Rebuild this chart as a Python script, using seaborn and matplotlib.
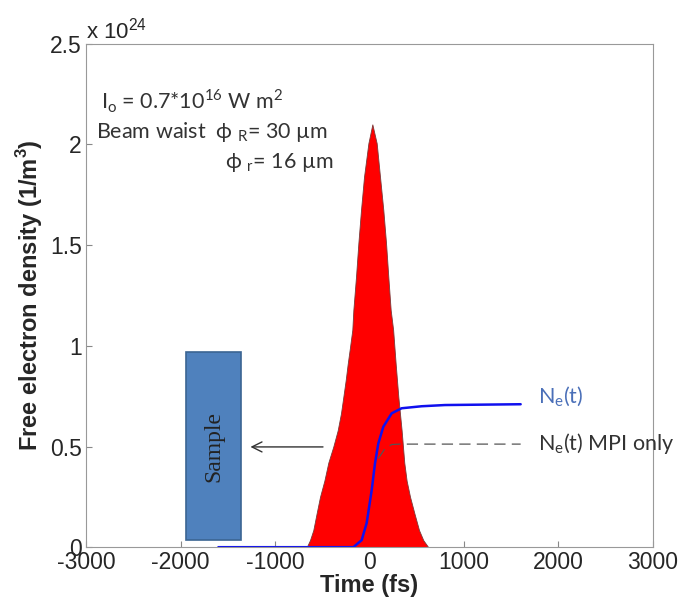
import numpy as np
import pandas as pd
import matplotlib
matplotlib.use("Agg")
import matplotlib.pyplot as plt
import seaborn as sns
from matplotlib.patches import Rectangle

# values in units of 1e24 1/m^3, time in fs
# red pulse outline (left flank, peak, right flank)
pulse_t = [-1600, -680, -665, -630, -595, -559, -524, -478, -436, -383, -337, -302, -277,
           -252, -231, -206, -182, -171, -143, -118, -90, -58, -12, 30,
           76, 111, 146, 175, 199, 224, 250, 277, 305, 340, 368, 393, 429, 474, 524,
           569, 622, 1600]
pulse_n = [0, 0, 0, 0.035, 0.085, 0.17, 0.25, 0.33, 0.42, 0.50, 0.58, 0.665, 0.747,
           0.83, 0.91, 0.995, 1.08, 1.178, 1.343, 1.51, 1.675, 1.84, 2.006, 2.10,
           2.006, 1.84, 1.675, 1.51, 1.343, 1.178, 1.08, 0.91, 0.747, 0.58, 0.42, 0.33, 0.25, 0.17, 0.085,
           0.035, 0, 0]

# Ne(t)
ne_t = [-1600, -171, -83, -30, 23, 58, 93, 146, 235, 340, 552, 799, 1600]
ne_n = [0, 0, 0.035, 0.12, 0.283, 0.416, 0.515, 0.598, 0.665, 0.69, 0.70, 0.706, 0.71]

# Ne(t) MPI only
mpi_t = [93, 164, 235, 320, 1600]
mpi_n = [0.44, 0.49, 0.51, 0.512, 0.512]

xticks = [-3000, -2000, -1000, 0, 1000, 2000, 3000]
yticks = [0, 0.5, 1, 1.5, 2, 2.5]
yticklabels = ['0', '0.5', '1', '1.5', '2', '2.5']

sns.set_style("ticks")
plt.rcParams['font.family'] = ['Liberation Sans', 'DejaVu Sans']
plt.rcParams['axes.unicode_minus'] = False

fig = plt.figure(figsize=(6.78, 6.0), dpi=100)
ax = fig.add_axes([0.127, 0.088, 0.836, 0.839])

ax.fill_between(pulse_t, pulse_n, 0, color='#ff0000', lw=0.6, edgecolor='#7a3a3a')

ne = pd.DataFrame({'t': ne_t, 'n': ne_n})
mpi = pd.DataFrame({'t': mpi_t, 'n': mpi_n})
sns.lineplot(data=mpi, x='t', y='n', ax=ax, color='#555555', lw=0.9, linestyle=(0, (9, 5)))
sns.lineplot(data=ne, x='t', y='n', ax=ax, color='#1010ee', lw=1.8)

# sample block
ax.add_patch(Rectangle((-1942, 0.035), 582, 0.935, facecolor='#4f81bd', edgecolor='#3b6592', lw=1.2, zorder=3))
ax.text(-1650, 0.5, 'Sample', rotation=90, ha='center', va='center', fontsize=17,
        family='Liberation Serif', color='#222222', zorder=4)
ax.annotate('', xy=(-1290, 0.498), xytext=(-463, 0.498),
            arrowprops=dict(arrowstyle='->', color='#333333', lw=1.0, mutation_scale=18))

txt = ['Lato', 'DejaVu Sans']
ax.text(1780, 0.745, r'N$_\mathregular{e}$(t)', color='#4a6fb8', fontsize=15.5,
        family=txt, va='center', ha='left')
ax.text(1780, 0.515, r'N$_\mathregular{e}$(t) MPI only', color='#333333', fontsize=15.5,
        family=txt, va='center', ha='left')

ax.text(-2840, 2.215, r'I$_\mathregular{o}$ = 0.7*10$^\mathregular{16}$ W m$^\mathregular{2}$',
        fontsize=15.5, family=txt, color='#333333', va='center')
ax.text(-2890, 2.06, r'Beam waist  ϕ $_\mathregular{R}$= 30 µm',
        fontsize=15.5, family=txt, color='#333333', va='center')
ax.text(-1530, 1.91, r'ϕ $_\mathregular{r}$= 16 µm',
        fontsize=15.5, family=txt, color='#333333', va='center')

ax.set_xlim(-3000, 3000)
ax.set_ylim(0, 2.5)
ax.set_xticks(xticks)
ax.set_yticks(yticks)
ax.set_yticklabels(yticklabels)
ax.tick_params(direction='in', labelsize=16.5, length=4, color='#888888', pad=3)
for s in ax.spines.values():
    s.set_color('#999999')
    s.set_linewidth(0.8)

ax.set_xlabel('Time (fs)', fontsize=17, fontweight='bold', labelpad=0)
ax.set_ylabel('Free electron density (1/m$^\\mathregular{3}$)', fontsize=17, fontweight='bold', labelpad=4)
ax.text(0.0, 1.0, 'x 10$^\\mathregular{24}$', transform=ax.transAxes, fontsize=16, va='bottom', ha='left')

fig.savefig('out.png', dpi=100)
